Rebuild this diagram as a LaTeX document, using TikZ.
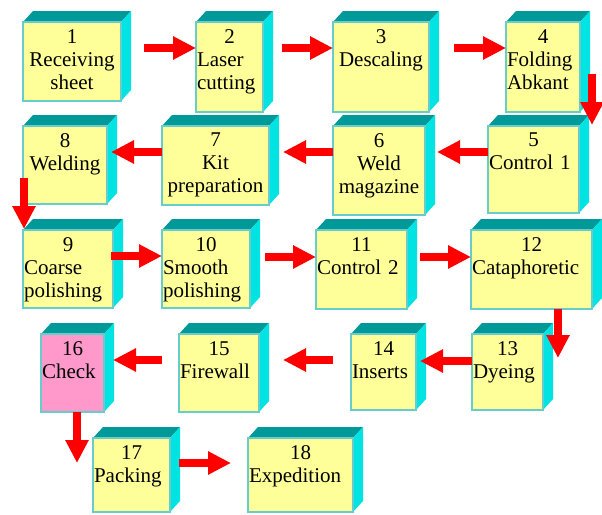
\documentclass[tikz,border=0pt]{standalone}
\usepackage{fontspec}
\setmainfont{Liberation Serif}
\usetikzlibrary{arrows.meta,calc}

\definecolor{boxyellow}{HTML}{FFFF99}
\definecolor{boxpink}{HTML}{FF99CC}
\definecolor{boxtop}{HTML}{009999}
\definecolor{boxside}{HTML}{00E3E3}
\definecolor{boxedge}{HTML}{66CCCC}

\tikzset{
  stage/.style={draw=boxedge, line width=1.2pt, inner sep=0pt, outer sep=0pt},
  topface/.style={fill=boxtop},
  sideface/.style={fill=boxside},
  stagetext/.style={anchor=north, inner sep=0pt, font=\fontsize{21}{23}\selectfont},
  flow/.style={red, line width=8pt, -{Triangle[length=23pt,width=22pt]}},
}

\begin{document}
\begin{tikzpicture}
    [
      x=1pt, y=-1pt,
    ]
    %
    \useasboundingbox [fill=white] (0,0) rectangle (602,514);

    % boxes: front face corners, colour, alignment of the name
    \foreach \n/\xa/\ya/\xb/\yb/\col/\al/\txt in {
        1/23/22/121/101/boxyellow/center/{Receiving\\sheet},
        2/196/22/263/112/boxyellow/left/{Laser\\cutting},
        3/333/22/429/112/boxyellow/center/{Descaling},
        4/506/22/580/112/boxyellow/left/{Folding\\Abkant},
        5/488/126/579/213/boxyellow/left/{Control 1},
        6/333/126/425/215/boxyellow/center/{Weld\\magazine},
        7/162/126/269/205/boxyellow/center/{Kit\\preparation},
        8/23/126/107/204/boxyellow/center/{Welding},
        9/23/230/113/308/boxyellow/left/{Coarse\\polishing},
        10/162/230/250/308/boxyellow/left/{Smooth\\polishing},
        11/316/230/407/309/boxyellow/left/{Control 2},
        12/471/230/592/309/boxyellow/left/{Cataphoretic},
        13/472/334/543/410/boxyellow/left/{Dyeing},
        14/351/334/416/410/boxyellow/left/{Inserts},
        15/179/334/259/412/boxyellow/left/{Firewall},
        16/41/334/104/412/boxpink/left/{Check},
        17/93/438/170/512/boxyellow/left/{Packing},
        18/248/438/353/512/boxyellow/left/{Expedition}} {
      % top and side
      \fill [topface] (\xa,\ya) -- (\xa+10,\ya-11) -- (\xb+10,\ya-11) -- (\xb,\ya) -- cycle;
      \fill [sideface] (\xb,\ya) -- (\xb+10,\ya-11) -- (\xb+10,\yb-11) -- (\xb,\yb) -- cycle;
      % front
      \node [stage, fill=\col, minimum width=\xb-\xa, minimum height=\yb-\ya] (b\n) at ({(\xa+\xb)/2},{(\ya+\yb)/2}) {};
      \pgfmathsetmacro{\w}{\xb-\xa-2}
      \node [stagetext, align=\al, text width=\w pt] (t\n) at ([yshift=-7pt]b\n.north) {{\centering\n\par}\txt};
    }

    % flow
    \draw [flow] ($(b1.north east)+(23,26)$) -- ($(b2.north west)+(0,26)$);
    \draw [flow] ($(b2.north east)+(19,26)$) -- ($(b3.north west)+(0,26)$);
    \draw [flow] ($(b3.north east)+(25,26)$) -- ($(b4.north west)+(0,26)$);
    \draw [flow] ($(b4.north east)+(12,52)$) -- ($(b5.north east)+(13,-1)$);
    \draw [flow] ($(b5.north west)+(0,26)$) -- ($(b6.north east)+(12,26)$);
    \draw [flow] ($(b6.north west)+(0,26)$) -- ($(b7.north east)+(14,26)$);
    \draw [flow] ($(b7.north west)+(0,26)$) -- ($(b8.north east)+(4,26)$);
    \draw [flow] ($(b8.south west)+(1,-26)$) -- ($(b9.north west)+(1,-1)$);
    \draw [flow] ($(b9.north east)+(-2,26)$) -- ($(b10.north west)+(0,26)$);
    \draw [flow] ($(b10.north east)+(15,27)$) -- ($(b11.north west)+(0,27)$);
    \draw [flow] ($(b11.north east)+(13,27)$) -- ($(b12.north west)+(0,27)$);
    \draw [flow] ($(b12.south east)+(-34,0)$) -- ($(b13.north east)+(15,24)$);
    \draw [flow] ($(b13.north west)+(0,27)$) -- ($(b14.north east)+(4,27)$);
    \draw [flow] ($(b14.north west)+(-18,26)$) -- ($(b15.north east)+(24,26)$);
    \draw [flow] ($(b15.north west)+(-17,26)$) -- ($(b16.north east)+(9,26)$);
    \draw [flow] ($(b16.south west)+(36,0)$) -- ($(b17.north west)+(-16,25)$);
    \draw [flow] ($(b17.north east)+(9,25)$) -- ($(b18.north west)+(-17,25)$);
  \end{tikzpicture}
\end{document}
